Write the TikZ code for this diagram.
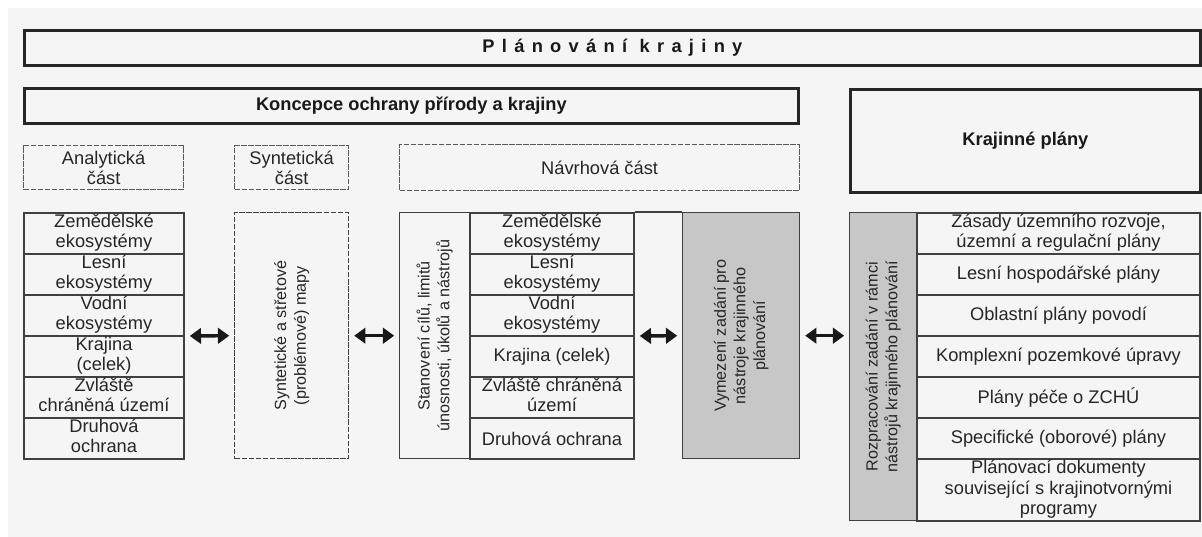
\documentclass[tikz,border=0pt]{standalone}
\usepackage{fontspec}
\setmainfont{Liberation Sans}
\usepackage{xcolor}
\usepackage{tikz}
\usetikzlibrary{matrix}
\usetikzlibrary{arrows.meta, positioning}

\newcommand{\textpis}{\fontsize{13}{14.5}\selectfont}
\newcommand{\svislypis}{\fontsize{11.5}{14}\selectfont}
\newcommand{\radky}[1]{\begin{tabular}{@{}c@{}}#1\end{tabular}}

\begin{document}
\begin{tikzpicture}[
        ramec/.style={draw=black!85, line width=2pt, anchor=north west, inner sep=0pt, align=center, font=\textpis\bfseries, text=black!90},
        hlavicka/.style={draw=black!65, line width=0.9pt, dash pattern=on 4pt off 1pt, anchor=north west, inner sep=0pt, minimum height=1.1cm, align=center, font=\textpis, text=black!85},
        blok/.style={draw=black!75, line width=1pt, anchor=north west, inner sep=0pt, minimum height=6.15cm},
        seda/.style={blok, fill=black!22},
        svisle/.style={rotate=90, align=center, font=\svislypis, text=black!85},
        seznam/.style={matrix of nodes, anchor=north west, inner sep=0pt, row sep=-1pt, nodes={draw=black!75, line width=1pt, anchor=center, minimum width=#1, minimum height=1.025cm, inner sep=0pt, font=\textpis, text=black!85}},
        obousmer/.style={{Triangle[length=8pt,width=11pt]}-{Triangle[length=8pt,width=11pt]}, line width=2.4pt, black!90, shorten >=0.12cm, shorten <=0.12cm}
    ]

    % pozadi naskenovane stranky
    \useasboundingbox (0,0) rectangle (30.05,-13.425);
    \fill[white] (0,0) rectangle (30.05,-13.425);
    \fill[black!4] (0.2,-0.2) rectangle (30.05,-13.425);

    \node[ramec, minimum width=29.4cm, minimum height=0.875cm] (planovani) at (0.575,-0.725) {\addfontfeatures{LetterSpace=40}Plánování krajiny};
    \node[ramec, minimum width=19.35cm, minimum height=0.875cm] (koncepce) at (0.575,-2.175) {Koncepce ochrany přírody a krajiny};
    \node[ramec, minimum width=8.75cm, minimum height=2.575cm] (krajinne) at (21.225,-2.2) {Krajinné plány};

    \node[hlavicka, minimum width=4cm] (analyticka) at (0.575,-3.625) {Analytická\\část};
    \node[hlavicka, minimum width=2.85cm] (synteticka) at (5.85,-3.625) {Syntetická\\část};
    \node[hlavicka, minimum width=10cm, minimum height=1.15cm] (navrhova) at (9.975,-3.6) {Návrhová část};

    \matrix (analyza) [seznam=4cm] at (0.575,-5.3) {
        \radky{Zemědělské\\ekosystémy} \\
        \radky{Lesní\\ekosystémy} \\
        \radky{Vodní\\ekosystémy} \\
        \radky{Krajina\\(celek)} \\
        \radky{Zvláště\\chráněná území} \\
        \radky{Druhová\\ochrana} \\
    };

    \node[blok, dash pattern=on 4pt off 1pt, minimum width=2.85cm, label={[svisle]center:{Syntetické a střetové\\(problémové) mapy}}] (mapy) at (5.85,-5.3) {};

    \node[blok, minimum width=1.75cm, label={[svisle]center:{Stanovení cílů, limitů\\únosnosti, úkolů a nástrojů}}] (stanoveni) at (9.975,-5.3) {};

    \matrix (navrh) [seznam=4.1cm] at (11.725,-5.3) {
        \radky{Zemědělské\\ekosystémy} \\
        \radky{Lesní\\ekosystémy} \\
        \radky{Vodní\\ekosystémy} \\
        Krajina (celek) \\
        \radky{Zvláště chráněná\\území} \\
        Druhová ochrana \\
    };

    \node[seda, minimum width=2.925cm, label={[svisle]center:{Vymezení zadání pro\\nástroje krajinného\\plánování}}] (vymezeni) at (17.05,-5.3) {};
    \draw[black!75, line width=1pt] (navrh.north east) -- (vymezeni.north west);

    \node[seda, minimum width=1.675cm, minimum height=7.7cm, label={[svisle]center:{Rozpracování zadání v rámci\\nástrojů krajinného plánování}}] (rozprac) at (21.225,-5.3) {};

    \matrix (plany) [seznam=7.075cm, row 7/.style={nodes={minimum height=1.55cm}}] at (22.9,-5.3) {
        \radky{Zásady územního rozvoje,\\územní a regulační plány} \\
        Lesní hospodářské plány \\
        Oblastní plány povodí \\
        Komplexní pozemkové úpravy \\
        Plány péče o ZCHÚ \\
        Specifické (oborové) plány \\
        \radky{Plánovací dokumenty\\související s krajinotvornými\\programy} \\
    };

    % vazby mezi castmi
    \draw[obousmer] (analyza.east) -- (mapy.west);
    \draw[obousmer] (mapy.east) -- (stanoveni.west);
    \draw[obousmer] (navrh.east) -- (vymezeni.west);
    \draw[obousmer] (vymezeni.east) -- (vymezeni.east -| rozprac.west);
\end{tikzpicture}
\end{document}
